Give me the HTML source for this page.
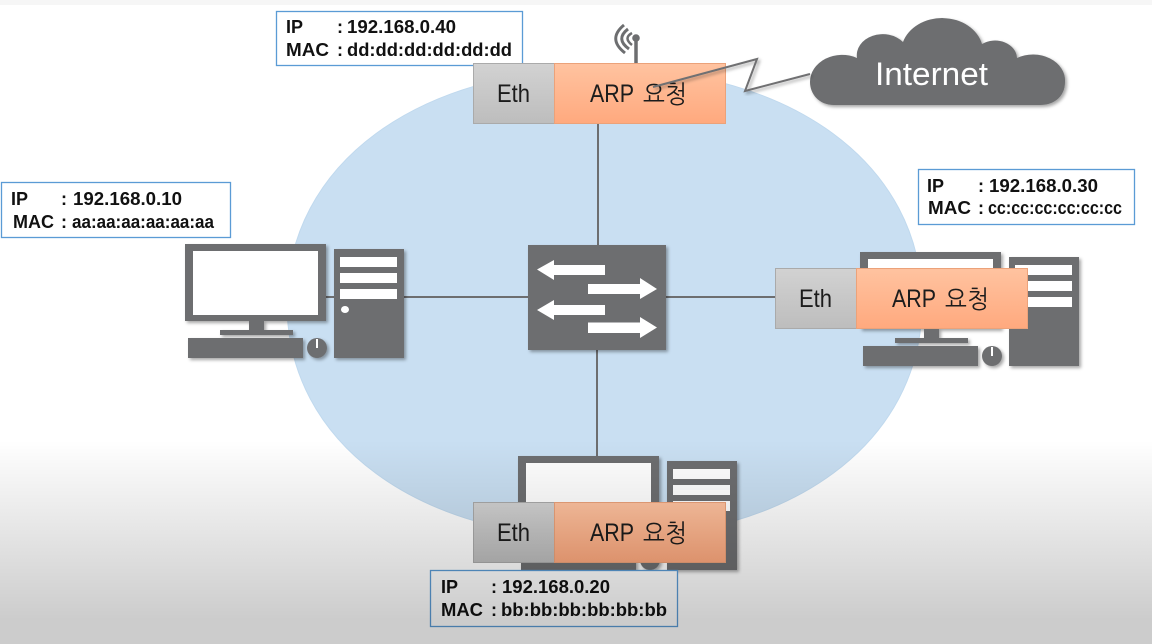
<!DOCTYPE html>
<html>
<head>
<meta charset="utf-8">
<style>
html,body{margin:0;padding:0;background:#fff;width:1152px;height:644px;overflow:hidden}
svg{display:block}
.lb{font-family:"Liberation Sans","Noto Sans CJK KR",sans-serif;font-weight:bold;font-size:18px;fill:#111}
.pk{font-family:"Liberation Sans","NanumGothic","Noto Sans CJK KR",sans-serif;font-size:25px;fill:#1c1c1c}
</style>
</head>
<body>
<svg width="1152" height="644" viewBox="0 0 1152 644" xmlns="http://www.w3.org/2000/svg">
<defs>
<filter id="s" x="-10%" y="-10%" width="125%" height="125%"><feDropShadow dx="2" dy="2" stdDeviation="1.5" flood-color="#000" flood-opacity=".35"/></filter>
<linearGradient id="o" x1="0" y1="0" x2="0" y2="1"><stop offset="0" stop-color="#ffc3a0"/><stop offset="1" stop-color="#ffa97e"/></linearGradient>
<linearGradient id="g" x1="0" y1="0" x2="0" y2="1"><stop offset="0" stop-color="#d2d2d2"/><stop offset="1" stop-color="#bdbdbd"/></linearGradient>
<linearGradient id="ov" gradientUnits="userSpaceOnUse" x1="0" y1="440" x2="0" y2="620"><stop offset="0" stop-color="#000" stop-opacity="0"/><stop offset="1" stop-color="#000" stop-opacity=".2"/></linearGradient>
<g id="pc">
<g filter="url(#s)" fill="#6d6e70">
<rect x="185" y="244" width="141" height="77"/>
<rect x="249" y="321" width="15" height="10"/>
<rect x="220" y="330" width="73" height="5"/>
<rect x="188" y="338" width="115" height="20"/>
<circle cx="317" cy="348" r="10"/>
<rect x="334" y="249" width="70" height="109"/>
</g>
<rect x="193" y="251" width="125" height="64" fill="#fff"/>
<rect x="340" y="257" width="57" height="10" fill="#fff"/>
<rect x="340" y="273" width="57" height="10" fill="#fff"/>
<rect x="340" y="289" width="57" height="10" fill="#fff"/>
<ellipse cx="345" cy="309.500" rx="4" ry="3.500" fill="#fff"/>
<rect x="316" y="339" width="2" height="9" fill="#fff"/>
</g>
</defs>

<rect width="1152" height="644" fill="#fff"/>
<rect width="1152" height="5" fill="#f6f6f6"/>

<path d="M287 303.500 C287 164.500 417.500 68.500 604.500 68.500 C791.500 68.500 922 164.500 922 303.500 C922 442.500 791.500 538.500 604.500 538.500 C417.500 538.500 287 442.500 287 303.500 Z" fill="#c9dff2" stroke="#c0d9ee" stroke-width="1"/>

<g stroke="#6d6e70" stroke-width="2" fill="none">
<line x1="598" y1="120" x2="598" y2="246"/>
<line x1="597" y1="349" x2="597" y2="458"/>
<line x1="326" y1="297" x2="530" y2="297"/>
<line x1="665" y1="297" x2="777" y2="297"/>
</g>

<use href="#pc"/>
<use href="#pc" x="675" y="8"/>
<use href="#pc" x="333" y="212"/>

<!-- switch -->
<rect x="528" y="245" width="138" height="105" fill="#6d6e70" filter="url(#s)"/>
<g fill="#fff">
<polygon points="537,269.500 554,260 554,265 605,265 605,275 554,275 554,280"/>
<polygon points="657,289 640,278 640,284 588,284 588,294 640,294 640,299"/>
<polygon points="537,310 554,300 554,305 605,305 605,315 554,315 554,320"/>
<polygon points="657,327.500 640,317 640,322.500 588,322.500 588,333 640,333 640,338"/>
</g>

<!-- antenna -->
<g fill="none" stroke="#6d6e70">
<line x1="636" y1="38" x2="636" y2="64" stroke-width="3.500"/>
<path d="M632 33 Q623 38 632 45" stroke-width="2.500"/>
<path d="M628 29 Q615 39 629 49" stroke-width="3"/>
<path d="M624 25 Q607 39 625 53" stroke-width="3"/>
</g>
<circle cx="636" cy="38" r="3.800" fill="#6d6e70"/>

<!-- cloud -->
<path d="M834 105 C819 105 810 94 810 82 A32 27 0 0 1 857 58 A26 21 0 0 1 903 42 A41 34 0 0 1 982 44 A22 18 0 0 1 1017 58 A32 26 0 0 1 1065 82 C1065 96 1055 105 1040 105 Z" fill="#6d6e70" filter="url(#s)"/>
<text x="875" y="85" font-family="'Liberation Sans',sans-serif" font-size="32" fill="#fff" textLength="113" lengthAdjust="spacingAndGlyphs">Internet</text>

<!-- labels -->
<g fill="#fff" stroke="#5b9bd5" stroke-width="1.300">
<rect x="276.500" y="11.500" width="246" height="54"/>
<rect x="1.500" y="182.500" width="229" height="55"/>
<rect x="918.500" y="169.500" width="216" height="55"/>
<rect x="430.500" y="570.500" width="247" height="56"/>
</g>
<g class="lb">
<text x="286" y="33">IP</text><text x="337" y="33">:</text><text x="347" y="33" textLength="109" lengthAdjust="spacingAndGlyphs">192.168.0.40</text>
<text x="286" y="56" textLength="43" lengthAdjust="spacingAndGlyphs">MAC</text><text x="337" y="56">:</text><text x="347" y="56" textLength="165" lengthAdjust="spacingAndGlyphs">dd:dd:dd:dd:dd:dd</text>

<text x="11" y="205">IP</text><text x="61" y="205">:</text><text x="73" y="205" textLength="109" lengthAdjust="spacingAndGlyphs">192.168.0.10</text>
<text x="13" y="228" textLength="41" lengthAdjust="spacingAndGlyphs">MAC</text><text x="61" y="228">:</text><text x="72" y="228" textLength="142" lengthAdjust="spacingAndGlyphs">aa:aa:aa:aa:aa:aa</text>

<text x="927" y="192">IP</text><text x="978" y="192">:</text><text x="989" y="192" textLength="109" lengthAdjust="spacingAndGlyphs">192.168.0.30</text>
<text x="928" y="214" textLength="43" lengthAdjust="spacingAndGlyphs">MAC</text><text x="978" y="214">:</text><text x="988" y="214" textLength="134" lengthAdjust="spacingAndGlyphs">cc:cc:cc:cc:cc:cc</text>

<text x="441" y="593">IP</text><text x="491" y="593">:</text><text x="502" y="593" textLength="108" lengthAdjust="spacingAndGlyphs">192.168.0.20</text>
<text x="441" y="616" textLength="42" lengthAdjust="spacingAndGlyphs">MAC</text><text x="491" y="616">:</text><text x="501" y="616" textLength="166" lengthAdjust="spacingAndGlyphs">bb:bb:bb:bb:bb:bb</text>
</g>

<!-- packets -->
<g id="pk1">
<rect x="473.500" y="63.500" width="81" height="60" fill="url(#g)" stroke="#aaa"/>
<rect x="554.500" y="63.500" width="171" height="60" fill="url(#o)" stroke="#eba27a"/>
<text class="pk" x="497" y="102" textLength="33" lengthAdjust="spacingAndGlyphs">Eth</text>
<text class="pk" x="590" y="102" textLength="44" lengthAdjust="spacingAndGlyphs">ARP</text>
<text class="pk" x="643" y="103" textLength="44" lengthAdjust="spacingAndGlyphs">요청</text>
</g>
<use href="#pk1" x="302" y="205"/>
<use href="#pk1" x="0" y="439"/>

<!-- lightning -->
<polyline points="653,87 757,59 745,91 810,74" fill="none" stroke="#6f7072" stroke-width="2" filter="url(#s)"/>

<!-- bottom fade -->
<rect x="0" y="440" width="1152" height="204" fill="url(#ov)"/>
</svg>
</body>
</html>
